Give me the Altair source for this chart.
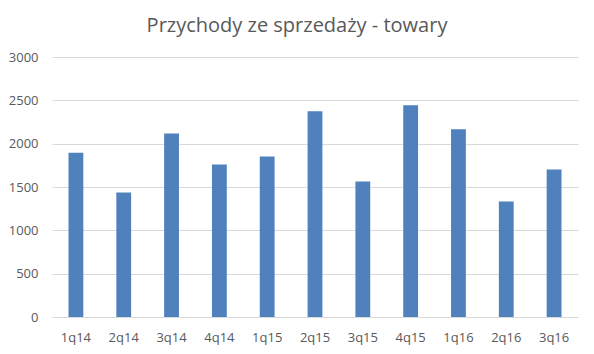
import altair as alt
import pandas as pd

quarters = ["1q14", "2q14", "3q14", "4q14", "1q15", "2q15", "3q15", "4q15", "1q16", "2q16", "3q16"]
values = [1896, 1436, 2116, 1761, 1853, 2375, 1564, 2444, 2166, 1332, 1703]
y_ticks = [0, 500, 1000, 1500, 2000, 2500, 3000]

df = pd.DataFrame({"q": quarters, "v": values})

grey = "#595959"
font = "Open Sans"

chart = alt.Chart(df).mark_bar(color="#4f81bd").encode(
    x=alt.X("q:N", sort=quarters, title=None,
            scale=alt.Scale(paddingInner=0.69, paddingOuter=0.345),
            axis=alt.Axis(labelAngle=0, labelColor=grey, labelFont=font, labelFontSize=13,
                          ticks=False, domainColor="#d9d9d9", labelPadding=14, grid=False)),
    y=alt.Y("v:Q", title=None,
            scale=alt.Scale(domain=[0, 3000], nice=False),
            axis=alt.Axis(values=y_ticks, format="d", labelColor=grey, labelFont=font, labelFontSize=13,
                          ticks=False, domain=False, gridColor="#d9d9d9", labelPadding=14)),
).properties(
    width=526,
    height=260,
    title=alt.TitleParams("Przychody ze sprzedaży - towary", font=font, fontSize=20,
                          fontWeight="normal", color=grey, anchor="middle", offset=15, dx=-18),
    autosize=alt.AutoSizeParams(type="none"),
    padding={"left": 52, "top": 57, "right": 16, "bottom": 37},
).configure_view(stroke=None)

chart.save("out.html", embed_options={"renderer": "svg", "actions": False})
